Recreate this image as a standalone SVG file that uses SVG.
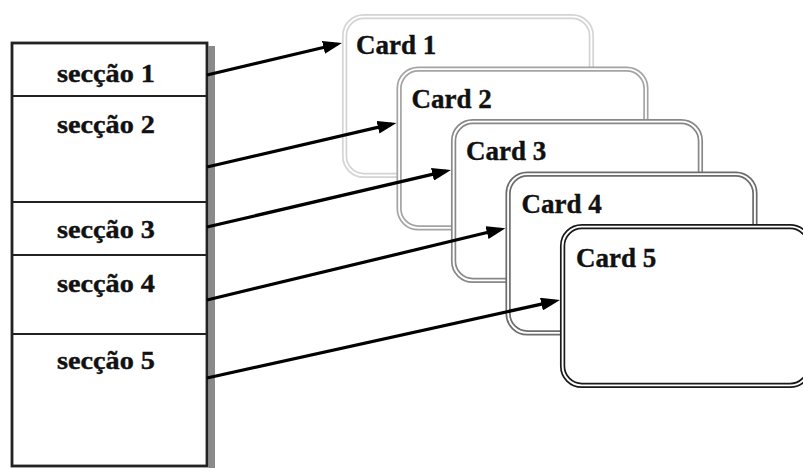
<svg xmlns="http://www.w3.org/2000/svg" width="803" height="468" viewBox="0 0 803 468">
<style>
.sec{font-family:"Liberation Serif","Times New Roman",serif;font-weight:bold;font-size:25px;fill:#111;stroke:#111;stroke-width:0.4;text-anchor:middle}
.ct{font-family:"Liberation Serif","Times New Roman",serif;font-weight:bold;font-size:27px;fill:#111;stroke:#111;stroke-width:0.4}
.sep{stroke:#222;stroke-width:2.2}
.o{fill:#fff;stroke-width:1.7}
.i{fill:none;stroke-width:1.7}
.conn line{stroke:#000;stroke-width:3.2;marker-end:url(#ah)}
</style>
<defs>
<marker id="ah" markerUnits="userSpaceOnUse" markerWidth="19" markerHeight="13" refX="14" refY="6.5" orient="auto">
<path d="M0,0 L19,6.5 L0,13 z" fill="#000"/>
</marker>
</defs>
<rect width="803" height="468" fill="#fff"/>
<g id="sections">
<rect x="208.5" y="46" width="6.5" height="422" fill="#8a8a8a"/>
<rect x="12" y="43" width="195" height="423" fill="#fff" stroke="#222" stroke-width="2.8"/>
<line class="sep" x1="12" y1="96" x2="207" y2="96"/>
<line class="sep" x1="12" y1="202" x2="207" y2="202"/>
<line class="sep" x1="12" y1="255" x2="207" y2="255"/>
<line class="sep" x1="12" y1="334" x2="207" y2="334"/>
<text class="sec" x="106" y="82" textLength="98" lengthAdjust="spacingAndGlyphs">secção 1</text>
<text class="sec" x="106" y="133" textLength="98" lengthAdjust="spacingAndGlyphs">secção 2</text>
<text class="sec" x="106" y="238" textLength="98" lengthAdjust="spacingAndGlyphs">secção 3</text>
<text class="sec" x="106" y="292" textLength="98" lengthAdjust="spacingAndGlyphs">secção 4</text>
<text class="sec" x="106" y="369" textLength="98" lengthAdjust="spacingAndGlyphs">secção 5</text>
</g>
<g id="card1" transform="translate(342,14)" stroke="#d4d4d4">
<rect class="o" x="0.8" y="0.8" width="250.4" height="162.4" rx="21"/>
<rect class="i" x="4.4" y="4.4" width="243.2" height="155.2" rx="17.5"/>
<text class="ct" x="14" y="40">Card 1</text>
</g>
<g id="card2" transform="translate(396.5,66.5)" stroke="#a4a4a4">
<rect class="o" x="0.8" y="0.8" width="250.4" height="162.4" rx="21"/>
<rect class="i" x="4.4" y="4.4" width="243.2" height="155.2" rx="17.5"/>
<text class="ct" x="15" y="41">Card 2</text>
</g>
<g id="card3" transform="translate(451,119)" stroke="#888">
<rect class="o" x="0.8" y="0.8" width="250.4" height="162.4" rx="21"/>
<rect class="i" x="4.4" y="4.4" width="243.2" height="155.2" rx="17.5"/>
<text class="ct" x="15" y="41">Card 3</text>
</g>
<g id="card4" transform="translate(505.5,171.5)" stroke="#6c6c6c">
<rect class="o" x="0.8" y="0.8" width="250.4" height="162.4" rx="21"/>
<rect class="i" x="4.4" y="4.4" width="243.2" height="155.2" rx="17.5"/>
<text class="ct" x="16" y="41">Card 4</text>
</g>
<g id="card5" transform="translate(560,224)" stroke="#1a1a1a">
<rect class="o" x="0.8" y="0.8" width="250.4" height="162.4" rx="21"/>
<rect class="i" x="4.4" y="4.4" width="243.2" height="155.2" rx="17.5"/>
<text class="ct" x="16" y="43">Card 5</text>
</g>
<g id="connectors" class="conn">
<line x1="207" y1="75" x2="337.1" y2="44.2"/>
<line x1="207" y1="167" x2="391.6" y2="124.1"/>
<line x1="207" y1="227" x2="446.1" y2="171.1"/>
<line x1="207" y1="300" x2="500.6" y2="229.3"/>
<line x1="207" y1="378" x2="555.1" y2="301.1"/>
</g>
</svg>
